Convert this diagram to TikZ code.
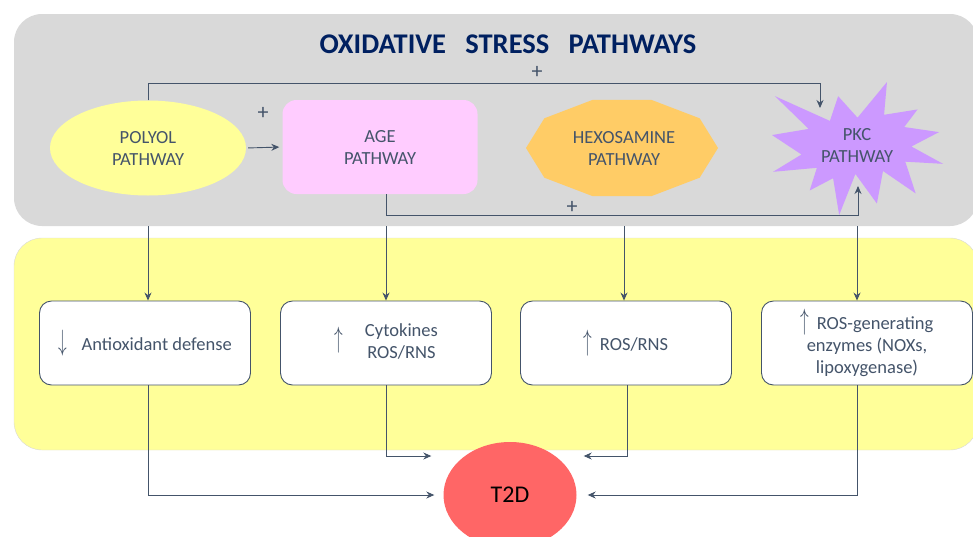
\documentclass[tikz,border=0pt]{standalone}
\usepackage{fontspec}
\setmainfont{Carlito}
\usepackage{amsmath}
\usepackage{xcolor}
\usetikzlibrary{arrows.meta,shapes.geometric}

\definecolor{slate}{HTML}{44546A}
\definecolor{navy}{HTML}{002060}
\definecolor{panelgray}{HTML}{D9D9D9}
\definecolor{paleyellow}{HTML}{FFFF99}
\definecolor{pink}{HTML}{FFCCFF}
\definecolor{amber}{HTML}{FFCC66}
\definecolor{lilac}{HTML}{CC99FF}
\definecolor{coral}{HTML}{FF6666}

\newcommand{\up}{\scalebox{1}[1.7]{$\uparrow$}}
\newcommand{\down}{\scalebox{1}[1.7]{$\downarrow$}}

\begin{document}
\begin{tikzpicture}[x=1pt,y=-1pt,
    link/.style={draw=slate,line width=0.9pt,-{Stealth[length=8pt,width=7pt]}},
    pathtext/.style={text=slate,align=center,font=\fontsize{18.5}{22}\selectfont},
    effect/.style={draw=slate,line width=0.9pt,fill=white,rounded corners=12pt,
        minimum width=211pt,minimum height=84pt,align=center,text=slate,
        font=\fontsize{18.5}{22}\selectfont},
    plus/.style={text=slate,font=\fontsize{22}{24}\selectfont}]
    \useasboundingbox (0,0) rectangle (973,536);

    % panels
    \node (stress) at (496,120) [fill=panelgray,rounded corners=28pt,minimum width=964pt,minimum height=212pt] {};
    \node (damage) at (496,344) [fill=paleyellow,draw=panelgray,rounded corners=28pt,minimum width=964pt,minimum height=212pt] {};
    \node (title) at (508,44) [text=navy,font=\fontsize{28.5}{32}\selectfont\bfseries] {OXIDATIVE\ \ \ STRESS\ \ \ PATHWAYS};

    % pathways
    \node (polyol) at (148,148) [ellipse,fill=paleyellow,minimum width=196pt,minimum height=95pt,pathtext] {POLYOL\\PATHWAY};
    \node (age) at (380,147) [fill=pink,rounded corners=14pt,minimum width=195pt,minimum height=94pt,pathtext] {AGE\\PATHWAY};
    \fill[amber] (718,148) \foreach \a in {36,72,...,324} {-- ({622+96*cos(\a)},{148-50.5*sin(\a)})} -- cycle;
    \node (hexo) at (624,148) [pathtext] {HEXOSAMINE\\PATHWAY};
    \begin{scope}[shift={(772,82)},xscale=0.7917,yscale=0.6157]
        \fill[lilac] (108,58) -- (145.22,0) -- (141.55,53.25) -- (183.80,44.57) -- (167.02,73.15)
            -- (210.97,81.37) -- (176.07,104.75) -- (216,132.90) -- (168.37,129.42) -- (181.45,180.95)
            -- (140.20,144.57) -- (132.47,197.37) -- (105.32,149.35) -- (84.85,216) -- (77.15,156.27)
            -- (47.62,176.17) -- (56.67,139.37) -- (1.35,145.87) -- (37.22,117.75) -- (0,86.15)
            -- (46.27,76.17) -- (3.70,22.95) -- (73.12,63.20) -- (83.52,22.95) -- cycle;
    \end{scope}
    \node (pkc) at (857,145) [pathtext] {PKC\\PATHWAY};
    \coordinate (pkcnw) at (820,108);
    \coordinate (pkcs) at (858,186);

    % effects
    \node (anti) at (145,343) [effect] {\down\hspace{0.8em}Antioxidant defense};
    \node (cyto) at (386,343) [effect] {\up\hspace{1.2em}\begin{tabular}{@{}c@{}}Cytokines\\ROS/RNS\end{tabular}};
    \node (ros) at (626,343) [effect] {\up\hspace{0.4em}ROS/RNS};
    \node (enz) at (867,343) [effect] {\up\hspace{0.4em}ROS-generating\\enzymes (NOXs,\\lipoxygenase)};

    \node (t2d) at (510,495) [ellipse,fill=coral,minimum width=133pt,minimum height=106pt,font=\fontsize{24}{26}\selectfont] {T2D};

    % cross-talk
    \draw[link] (polyol.north) -- ++(0,-17) -| (pkcnw);
    \draw[link,shorten <=2pt,shorten >=3pt] (polyol.east) -- (age.west);
    \draw[link] ([xshift=6pt]age.south) -- ++(0,21) -| (pkcs);
    \node (plusa) at (537,72) [plus] {+};
    \node (plusb) at (263,113) [plus] {+};
    \node (plusc) at (572,207) [plus] {+};

    % pathways to effects
    \draw[link] (polyol |- stress.south) -- (polyol |- anti.north);
    \draw[link] (cyto |- stress.south) -- (cyto.north);
    \draw[link] (hexo |- stress.south) -- (hexo |- ros.north);
    \draw[link] (pkc |- stress.south) -- (pkc |- enz.north);

    % effects to T2D
    \draw[link,shorten >=9pt] (polyol |- anti.south) |- (t2d.west);
    \draw[link,shorten >=12pt] (cyto.south) |- ([yshift=39pt]t2d.west);
    \draw[link,shorten >=7pt] ([xshift=1pt]ros.south) |- ([yshift=39pt]t2d.east);
    \draw[link,shorten >=11pt] (pkc |- enz.south) |- (t2d.east);
\end{tikzpicture}
\end{document}
